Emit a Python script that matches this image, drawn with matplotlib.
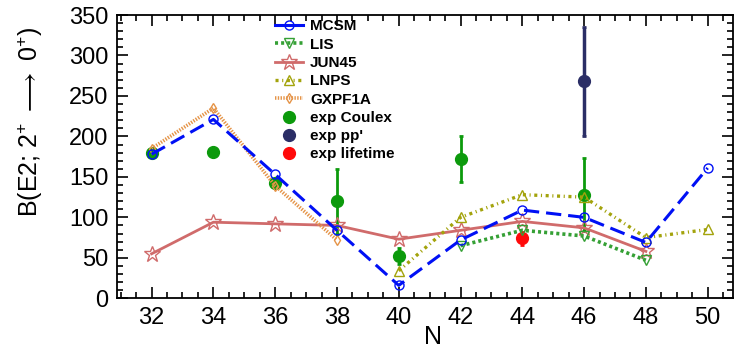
import matplotlib
matplotlib.use("Agg")
import matplotlib.pyplot as plt
from matplotlib.ticker import MultipleLocator
from matplotlib.lines import Line2D

plt.rcParams['font.family'] = ['Liberation Sans', 'DejaVu Sans']
plt.rcParams['mathtext.fontset'] = 'custom'
plt.rcParams['mathtext.rm'] = 'Liberation Sans'
plt.rcParams['mathtext.it'] = 'Liberation Sans:italic'
plt.rcParams['mathtext.bf'] = 'Liberation Sans:bold'
plt.rcParams['mathtext.fallback'] = 'stixsans'
plt.rcParams['lines.scale_dashes'] = False

# shell-model calculations
n_mcsm = [32, 34, 36, 38, 40, 42, 44, 46, 48, 50]
b_mcsm = [178, 221, 153, 84, 16, 72, 109, 100, 69, 161]

n_lis = [42, 44, 46, 48]
b_lis = [65, 84, 77, 47]

n_jun45 = [32, 34, 36, 38, 40, 42, 44, 46, 48]
b_jun45 = [55, 94, 92, 90, 73, 84, 95, 87, 58]

n_lnps = [40, 42, 44, 46, 48, 50]
b_lnps = [34, 100, 128, 125, 75, 85]

n_gxpf1a = [32, 34, 36, 38]
b_gxpf1a = [185, 235, 139, 72]

# experiment
n_coulex = [32, 34, 36, 38, 40, 42, 46]
b_coulex = [180, 181, 143, 120, 52, 172, 128]
err_coulex = [5, 4, 5, 40, 10, 28, 45]

n_pp = [46]
b_pp = [268]
err_pp = [67]

n_life = [44]
b_life = [74]
err_life = [8]

c_mcsm = '#0010f5'
c_lis = '#35a035'
c_jun = '#d06b6b'
c_lnps = '#a3a30c'
c_gx = '#e59448'
c_coulex = '#0c9a0c'
c_pp = '#2b2e66'
c_life = '#ff0a0a'

fig = plt.figure(figsize=(7.34, 3.55), dpi=100)
ax = fig.add_axes([116.7 / 734, 1 - 298.3 / 355, (733.3 - 116.7) / 734, (298.3 - 15) / 355])

# experimental points (drawn under the calculations)
ax.errorbar(n_coulex, b_coulex, yerr=err_coulex, fmt='o', color=c_coulex, ms=8.5,
            elinewidth=2, capsize=1.5, capthick=2, zorder=2)
ax.errorbar(n_pp, b_pp, yerr=err_pp, fmt='o', color=c_pp, ms=8.5,
            elinewidth=2.5, capsize=1.5, capthick=2, zorder=2)
ax.errorbar(n_life, b_life, yerr=err_life, fmt='o', color=c_life, ms=8.5,
            elinewidth=2, capsize=1.5, capthick=2, zorder=2)

ax.plot(n_jun45, b_jun45, '-', color=c_jun, lw=2, marker='*', ms=12, mfc='none',
        mec=c_jun, mew=1, zorder=3)
ax.plot(n_gxpf1a, b_gxpf1a, color=c_gx, lw=2.6, dashes=(1, 1), marker='d', ms=5,
        mfc='none', mec=c_gx, mew=1, zorder=3)
ax.plot(n_lis, b_lis, color=c_lis, lw=2.6, dashes=(2.2, 2.2), marker='v', ms=6.5,
        mfc='none', mec=c_lis, mew=1, zorder=3)
ax.plot(n_lnps, b_lnps, color=c_lnps, lw=2.4, dashes=(2.2, 2.6, 0.8, 2.6), marker='^',
        ms=7, mfc='none', mec=c_lnps, mew=1, zorder=3)
ax.plot(n_mcsm, b_mcsm, color=c_mcsm, lw=2.2, dashes=(11, 5), marker='o', ms=6.5,
        mfc='none', mec=c_mcsm, mew=1, zorder=4)

handles = [
    Line2D([], [], color=c_mcsm, lw=2.2, marker='o', ms=6.5, mfc='none'),
    Line2D([], [], color=c_lis, lw=2.6, dashes=(2.2, 2.2), marker='v', ms=6.5, mfc='none'),
    Line2D([], [], color=c_jun, lw=2, marker='*', ms=12, mfc='none', mew=1),
    Line2D([], [], color=c_lnps, lw=2.4, dashes=(2.2, 2.6, 0.8, 2.6), marker='^', ms=7, mfc='none'),
    Line2D([], [], color=c_gx, lw=2.6, dashes=(1, 1), marker='d', ms=5, mfc='none'),
    Line2D([], [], color=c_coulex, ls='none', marker='o', ms=8.5),
    Line2D([], [], color=c_pp, ls='none', marker='o', ms=8.5),
    Line2D([], [], color=c_life, ls='none', marker='o', ms=8.5),
]
labels = ['MCSM', 'LIS', 'JUN45', 'LNPS', 'GXPF1A', 'exp Coulex', "exp pp'", 'exp lifetime']
ax.legend(handles, labels, loc='upper left', bbox_to_anchor=(275 / 734, 1 - 19.5 / 355),
          bbox_transform=fig.transFigure, frameon=False, borderpad=0, borderaxespad=0,
          handlelength=1.85, handletextpad=0.45, labelspacing=0.28,
          prop={'weight': 'bold', 'size': 11})

ax.set_xlim(30.87, 50.83)
ax.set_ylim(0, 350)
ax.set_xticks(n_mcsm)
ax.xaxis.set_minor_locator(MultipleLocator(0.5))
ax.yaxis.set_major_locator(MultipleLocator(50))
ax.yaxis.set_minor_locator(MultipleLocator(10))
ax.tick_params(which='both', direction='in', top=True, right=True, width=1.2, labelsize=17)
ax.tick_params(which='major', length=8, pad=6)
ax.tick_params(which='minor', length=4)
for s in ax.spines.values():
    s.set_linewidth(1.3)

fig.text(30 / 734, 1 - 121.6 / 355, r'B(E2; 2$^{+}$ $\longrightarrow$ 0$^{+}$)', rotation=90,
         ha='center', va='center', fontsize=18)
fig.text(433 / 734, 1 - 337 / 355, 'N', ha='center', va='center', fontsize=18)

fig.savefig('out.png', dpi=100)
